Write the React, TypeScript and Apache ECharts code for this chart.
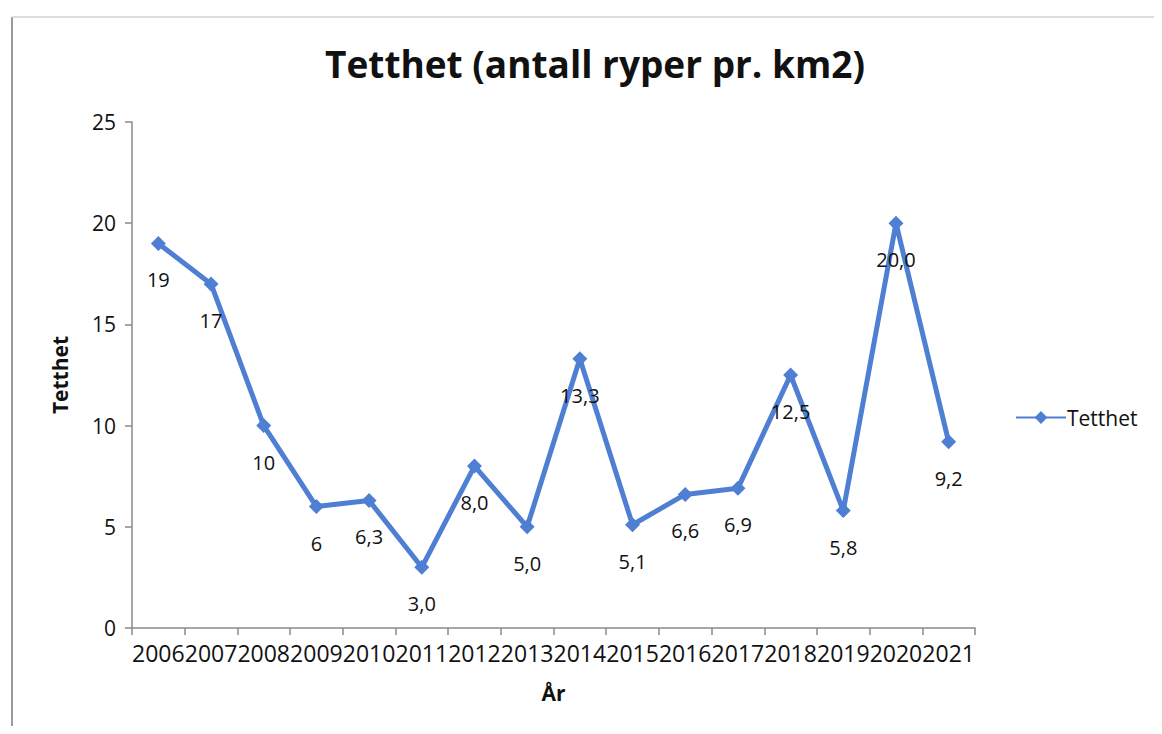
import React, { useEffect, useRef } from "react";
import * as echarts from "echarts";

const years = ["2006", "2007", "2008", "2009", "2010", "2011", "2012", "2013", "2014", "2015", "2016", "2017", "2018", "2019", "2020", "2021"];
const density = [19, 17, 10, 6, 6.3, 3.0, 8.0, 5.0, 13.3, 5.1, 6.6, 6.9, 12.5, 5.8, 20.0, 9.2];
const densityLabels = ["19", "17", "10", "6", "6,3", "3,0", "8,0", "5,0", "13,3", "5,1", "6,6", "6,9", "12,5", "5,8", "20,0", "9,2"];
const yTicks = [0, 5, 10, 15, 20, 25];

const FONT = "'Open Sans', 'Noto Sans', sans-serif";
const BLUE = "#4F7FD2";

export default function App() {
  const ref = useRef<HTMLDivElement>(null);
  useEffect(() => {
    if (!ref.current) return;
    const chart = echarts.init(ref.current, null, { renderer: "svg" });
    chart.setOption({
      animation: false,
      backgroundColor: "#ffffff",
      textStyle: { fontFamily: FONT },
      title: {
        text: "Tetthet (antall ryper pr. km2)",
        left: 590,
        top: 40,
        textAlign: "center",
        textStyle: { fontFamily: FONT, fontWeight: "bold", fontSize: 37, color: "#111" },
      },
      legend: {
        left: 1010,
        top: 402,
        orient: "vertical",
        itemWidth: 50,
        itemHeight: 16,
        itemGap: 4,
        textStyle: { fontFamily: FONT, fontSize: 21, color: "#111", padding: [0, 0, 0, -4] },
        data: ["Tetthet"],
      },
      grid: { left: 132, right: 187, top: 122, bottom: 106 },
      xAxis: {
        type: "category",
        data: years,
        boundaryGap: true,
        name: "År",
        nameLocation: "middle",
        nameGap: 54,
        nameTextStyle: { fontFamily: FONT, fontWeight: "bold", fontSize: 21, color: "#111" },
        axisLine: { lineStyle: { color: "#8a8a8a", width: 1.5 } },
        axisTick: { show: true, inside: false, length: 7, alignWithLabel: false, lineStyle: { color: "#8a8a8a", width: 1.5 } },
        axisLabel: { interval: 0, fontFamily: FONT, fontSize: 23, color: "#111", margin: 13 },
        splitLine: { show: false },
      },
      yAxis: {
        type: "value",
        min: yTicks[0],
        max: yTicks[yTicks.length - 1],
        interval: 5,
        name: "Tetthet",
        nameLocation: "middle",
        nameGap: 62,
        nameRotate: 90,
        nameTextStyle: { fontFamily: FONT, fontWeight: "bold", fontSize: 21, color: "#111" },
        axisLine: { show: true, lineStyle: { color: "#8a8a8a", width: 1.5 } },
        axisTick: { show: true, length: 7, lineStyle: { color: "#8a8a8a", width: 1.5 } },
        axisLabel: { fontFamily: FONT, fontSize: 21, color: "#111", margin: 16 },
        splitLine: { show: false },
      },
      series: [
        {
          name: "Tetthet",
          type: "line",
          data: density,
          symbol: "diamond",
          symbolSize: 15,
          lineStyle: { color: BLUE, width: 5 },
          itemStyle: { color: BLUE },
          label: {
            show: true,
            position: "bottom",
            distance: 19,
            fontFamily: FONT,
            fontSize: 20,
            color: "#111",
            formatter: (p: any) => densityLabels[p.dataIndex],
          },
        },
      ],
      graphic: [
        { type: "line", shape: { x1: 12, y1: 17, x2: 12, y2: 734 }, style: { stroke: "#9a9a9a", lineWidth: 2 } },
        { type: "line", shape: { x1: 12, y1: 17, x2: 1162, y2: 17 }, style: { stroke: "#d0d0d0", lineWidth: 1.5 } },
      ],
    });
    return () => chart.dispose();
  }, []);
  return <div ref={ref} style={{ width: 1162, height: 734, margin: -8 }} />;
}
